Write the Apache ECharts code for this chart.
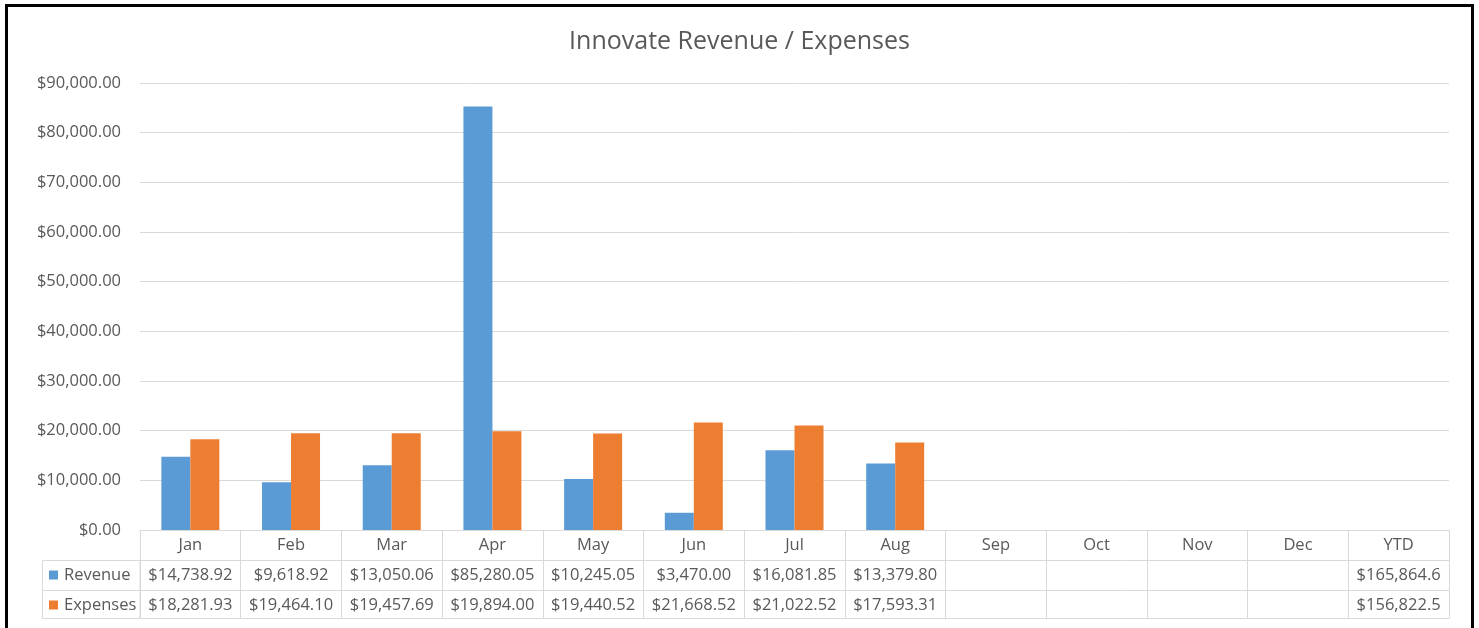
<!DOCTYPE html>
<html>
<head>
<meta charset="utf-8">
<script src="https://cdn.jsdelivr.net/npm/echarts@6/dist/echarts.min.js"></script>
<style>
  html, body { margin: 0; padding: 0; background: #fff; }
  #chart { position: absolute; left: 0; top: 0; width: 1479px; height: 628px; }
  #frame { position: absolute; left: 5px; top: 4px; width: 1463px; height: 640px; border: 3px solid #000; pointer-events: none; }
</style>
</head>
<body>
<div id="chart"></div>
<div id="frame"></div>
<script>
const categories = ['Jan', 'Feb', 'Mar', 'Apr', 'May', 'Jun', 'Jul', 'Aug', 'Sep', 'Oct', 'Nov', 'Dec', 'YTD'];
const revenue  = [14738.92, 9618.92, 13050.06, 85280.05, 10245.05, 3470.00, 16081.85, 13379.80, null, null, null, null, null];
const expenses = [18281.93, 19464.10, 19457.69, 19894.00, 19440.52, 21668.52, 21022.52, 17593.31, null, null, null, null, null];
const ytdLabels = { Revenue: '$165,864.6', Expenses: '$156,822.5' };
const yTicks = { min: 0, max: 90000, interval: 10000 };

const FONT = '"Open Sans", "Noto Sans", sans-serif';
const TXT = '#595959';
const LINE = '#d9d9d9';
const FS = 16.5;

function money(v) {
  return '$' + Number(v).toLocaleString('en-US', { minimumFractionDigits: 2, maximumFractionDigits: 2 });
}
function cellLabel(arr, name) {
  return function (value, idx) {
    if (categories[idx] === 'YTD') return ytdLabels[name];
    const v = arr[idx];
    return v == null ? '' : money(v);
  };
}

const chart = echarts.init(document.getElementById('chart'));
const baseX = {
  type: 'category',
  data: categories,
  position: 'bottom',
  boundaryGap: true,
  axisLine: { show: true, lineStyle: { color: LINE, width: 1 } },
  axisTick: { show: false },
  splitLine: { show: false }
};
chart.setOption({
  animation: false,
  backgroundColor: 'transparent',
  title: {
    text: 'Innovate Revenue / Expenses',
    left: 'center',
    top: 24,
    textStyle: { fontFamily: FONT, fontSize: 25, fontWeight: 'normal', color: TXT }
  },
  legend: {
    orient: 'vertical',
    left: 49,
    top: 565,
    padding: 0,
    itemGap: 10,
    itemWidth: 9,
    itemHeight: 9,
    icon: 'rect',
    selectedMode: false,
    textStyle: { fontFamily: FONT, fontSize: FS, color: TXT, padding: [0, 0, 0, 1], height: 20, lineHeight: 20 },
    data: ['Revenue', 'Expenses']
  },
  grid: { left: 140, right: 30, top: 83, bottom: 98, containLabel: false },
  xAxis: [
    Object.assign({}, baseX, {
      axisTick: { show: true, interval: 0, length: 88, lineStyle: { color: LINE } },
      axisLabel: { interval: 0, margin: 7, fontFamily: FONT, fontSize: FS, color: TXT }
    }),
    Object.assign({}, baseX, {
      offset: 30,
      axisLabel: { interval: 0, margin: 7, fontFamily: FONT, fontSize: FS, color: TXT, formatter: cellLabel(revenue, 'Revenue') }
    }),
    Object.assign({}, baseX, {
      offset: 60,
      axisLabel: { interval: 0, margin: 7, fontFamily: FONT, fontSize: FS, color: TXT, formatter: cellLabel(expenses, 'Expenses') }
    }),
    Object.assign({}, baseX, {
      offset: 88,
      axisLabel: { show: false }
    })
  ],
  yAxis: {
    type: 'value',
    min: yTicks.min,
    max: yTicks.max,
    interval: yTicks.interval,
    axisLine: { show: false },
    axisTick: { show: false },
    splitLine: { lineStyle: { color: LINE, width: 1 } },
    axisLabel: { margin: 19, fontFamily: FONT, fontSize: FS, color: TXT, formatter: money }
  },
  graphic: [
    { type: 'rect', silent: true, shape: { x: 42.5, y: 560.5, width: 97.5, height: 58 }, style: { fill: 'none', stroke: LINE, lineWidth: 1 } },
    { type: 'line', silent: true, shape: { x1: 42.5, y1: 590.5, x2: 140, y2: 590.5 }, style: { stroke: LINE, lineWidth: 1 } }
  ],
  series: [
    { name: 'Revenue', type: 'bar', xAxisIndex: 0, data: revenue, barWidth: 29, barGap: '0%', itemStyle: { color: '#5b9bd5' } },
    { name: 'Expenses', type: 'bar', xAxisIndex: 0, data: expenses, barWidth: 29, barGap: '0%', itemStyle: { color: '#ed7d31' } }
  ]
});
</script>
</body>
</html>
